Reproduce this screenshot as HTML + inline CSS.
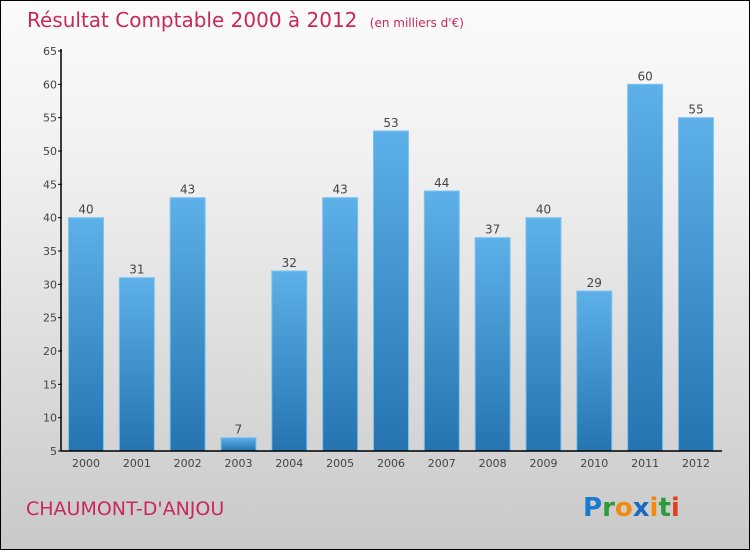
<!DOCTYPE html>
<html><head><meta charset="utf-8"><style>
body{margin:0;}
#wrap{position:relative;width:748px;height:548px;border:1px solid #000;background:linear-gradient(#fbfbfb,#f0f0f0 30%,#c9c9c9);font-family:"DejaVu Sans","Liberation Sans",sans-serif;overflow:hidden;}
svg text{font-family:"DejaVu Sans","Liberation Sans",sans-serif;}
</style></head><body>
<div id="wrap">
<svg width="748" height="548" id="chart">
<defs>
<linearGradient id="bg" x1="0" y1="0" x2="0" y2="1"><stop offset="0" stop-color="#5eb0e8"/><stop offset="1" stop-color="#2574b0"/></linearGradient>
</defs>
<text x="26" y="26" font-size="20" fill="#c8285a">Résultat Comptable 2000 à 2012 <tspan font-size="12" dx="6">(en milliers d'€)</tspan></text>
<g id="grid"></g>
<g id="bars"></g>
<line x1="60" y1="48" x2="60" y2="450" stroke="#000" stroke-width="1.5"/>
<line x1="60" y1="450" x2="721" y2="450" stroke="#000" stroke-width="1.5"/>
<text x="25" y="514" font-size="19" fill="#c8285a">CHAUMONT-D'ANJOU</text>
<text x="582" y="515" font-size="26" font-weight="bold"><tspan fill="#1a7ad0">P</tspan><tspan fill="#2e9a3c">r</tspan><tspan fill="#f08a10">o</tspan><tspan fill="#1a6ac0">x</tspan><tspan fill="#f08a10">i</tspan><tspan fill="#2e9a3c">t</tspan><tspan fill="#e04020">i</tspan></text>
</svg>
</div>
<script>
const categories=["2000","2001","2002","2003","2004","2005","2006","2007","2008","2009","2010","2011","2012"];
const values=[40,31,43,7,32,43,53,44,37,40,29,60,55];
const yTicks=[5,10,15,20,25,30,35,40,45,50,55,60,65];
const NS="http://www.w3.org/2000/svg";
const yMin=5,yMax=65,yTop=50,yBot=450;
function y(v){return yBot-(v-yMin)/(yMax-yMin)*(yBot-yTop);}
function xc(i){return 85+i*50.83;}
const svg=document.getElementById('chart');
const bars=document.getElementById('bars');
const grid=document.getElementById('grid');
function mk(t,a,p){const e=document.createElementNS(NS,t);for(const k in a)e.setAttribute(k,a[k]);(p||svg).appendChild(e);return e;}
yTicks.forEach(t=>{
 const l=mk('line',{x1:57,x2:61,y1:y(t),y2:y(t),stroke:'#000'},grid);
 
 
 const tx=mk('text',{x:56,y:y(t)+4,'text-anchor':'end','font-size':11,fill:'#444'},grid);
 tx.textContent=t;
 
 
});
categories.forEach((c,i)=>{
 const v=values[i];
 const r=mk('rect',{x:xc(i)-17.5,y:y(v),width:35,height:yBot-y(v),fill:'url(#bg)',stroke:'#7cc4f2','stroke-width':1},bars);
 
 
 const vl=mk('text',{x:xc(i),y:y(v)-4,'text-anchor':'middle','font-size':12,fill:'#444'},bars);
 vl.textContent=v;
 
 
 const xl=mk('text',{x:xc(i),y:466,'text-anchor':'middle','font-size':11,fill:'#444'},bars);
 xl.textContent=c;
 
 
});
</script>
</body></html>
